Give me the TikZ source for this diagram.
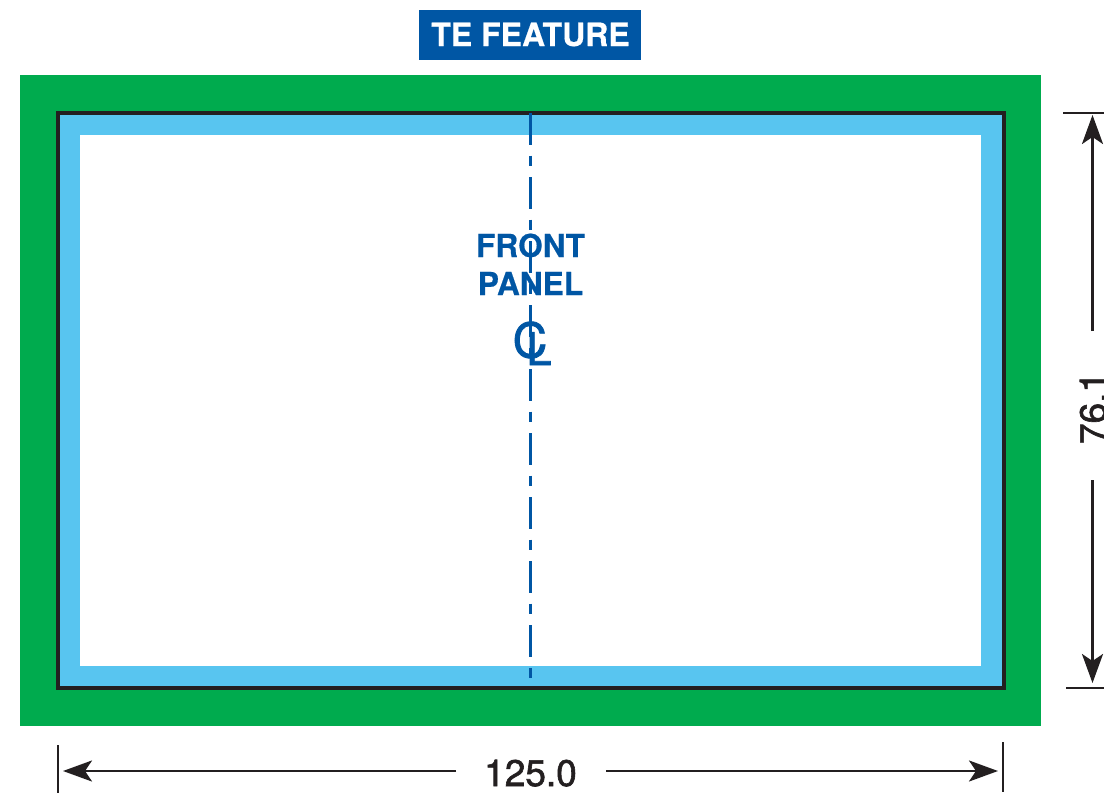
\documentclass[tikz,border=0pt]{standalone}
\usepackage{fontspec}
\setmainfont{TeX Gyre Heros}
\newfontfamily\medfont[FakeBold=1.6]{TeX Gyre Heros}
\newfontfamily\boldfont[FakeBold=0.5]{TeX Gyre Heros Bold}
\usetikzlibrary{arrows.meta}
\definecolor{tegreen}{HTML}{00AB4E}
\definecolor{teblue}{HTML}{0056A4}
\definecolor{telight}{HTML}{58C5F0}
\definecolor{teink}{HTML}{231F20}
\tikzset{
  dimline/.style={draw=teink,line width=2.6pt,-{Stealth[length=29pt,width=21pt,inset=7pt]}},
  dimtick/.style={draw=teink,line width=2.8pt},
  bluetext/.style={text=teblue,font=\boldfont\fontsize{31.7}{37}\selectfont,inner sep=0pt,anchor=base},
  dimtext/.style={text=teink,font=\medfont\fontsize{37}{40}\selectfont,inner sep=0pt,anchor=base},
  centreline/.style={draw=teblue,line width=2.6pt,dash pattern=on 32pt off 10.67pt on 10.67pt off 10.67pt},
  clglyph/.style={text=teblue,font=\medfont\fontsize{48}{48}\selectfont,inner sep=0pt,anchor=base},
}
\begin{document}
\begin{tikzpicture}[x=1pt,y=-1pt]
\useasboundingbox (0,0) rectangle (1104,795);
\clip (0,0) rectangle (1104,795);
\fill[white] (0,0) rectangle (1104,795);
% panels
\fill[tegreen] (20,75) rectangle (1041,726);
\fill[telight] (58,113) rectangle (1004,688);
\fill[white] (80,135) rectangle (981,666);
\draw[teink,line width=3.2pt] (58,113) rectangle (1004,688);
% banner
\node[fill=teblue,minimum width=222pt,minimum height=50pt,inner sep=0pt] (banner) at (530,35) {};
\node[text=white,font=\boldfont\fontsize{32}{37}\selectfont,inner sep=0pt,anchor=base] (bannertext) at (530.5,46) {TE FEATURE};
% centre line
\coordinate (cltop) at (530.5,113);
\coordinate (clbot) at (530.5,679);
\draw[centreline] (cltop) -- (clbot);
\node[bluetext] (front) at (530.5,257) {FRONT};
\node[bluetext] (panel) at (530.5,295) {PANEL};
\node[clglyph] (clc) at (530,357.5) {C};
\node[clglyph,font=\medfont\fontsize{45}{45}\selectfont] (cll) at (539,365) {L};
% vertical dimension
\coordinate (vt1) at (1063,113);
\coordinate (vt2) at (1104,113);
\coordinate (vb1) at (1066,688);
\coordinate (vb2) at (1104,688);
\draw[dimtick] (vt1) -- (vt2);
\draw[dimtick] (vb1) -- (vb2);
\coordinate (va1) at (1092.5,331);
\coordinate (va1t) at (1092.5,115);
\coordinate (va2) at (1092.5,480);
\coordinate (va2t) at (1092.5,683);
\draw[dimline] (va1) -- (va1t);
\draw[dimline] (va2) -- (va2t);
\node[dimtext,rotate=90] (vlabel) at (1106,408) {76.1};
% horizontal dimension
\coordinate (hl1) at (58,745);
\coordinate (hl2) at (58,793);
\coordinate (hr1) at (1003,742);
\coordinate (hr2) at (1003,792);
\draw[dimtick] (hl1) -- (hl2);
\draw[dimtick] (hr1) -- (hr2);
\coordinate (ha1) at (456,771);
\coordinate (ha1t) at (63,771);
\coordinate (ha2) at (606,771);
\coordinate (ha2t) at (998,771);
\draw[dimline] (ha1) -- (ha1t);
\draw[dimline] (ha2) -- (ha2t);
\node[dimtext] (hlabel) at (530.5,786) {125.0};
\end{tikzpicture}
\end{document}
